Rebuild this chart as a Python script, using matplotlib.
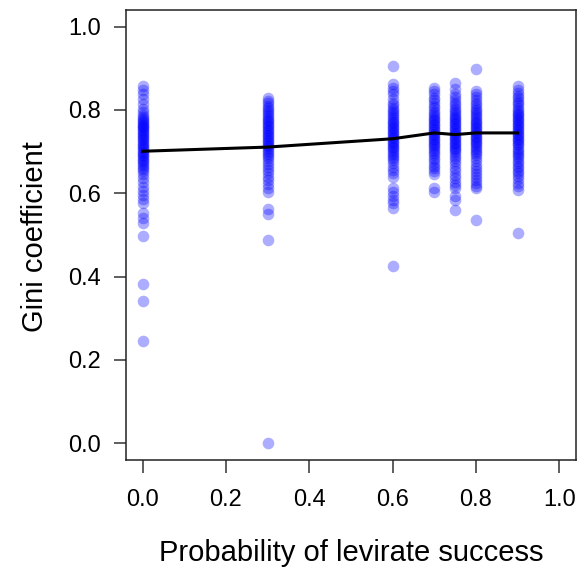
import matplotlib
matplotlib.use("Agg")
import matplotlib.pyplot as plt

plt.rcParams['font.family'] = ['Liberation Sans', 'DejaVu Sans']

# levirate success probabilities used in the simulations
probs = [0.0, 0.3, 0.6, 0.7, 0.75, 0.8, 0.9]

# Gini coefficient of each simulation run, grouped by probability
gini_00 = [0.858, 0.847, 0.838, 0.827, 0.815, 0.803, 0.795, 0.788, 0.783, 0.779, 0.775, 0.771,
           0.768, 0.765, 0.762, 0.759, 0.756, 0.752, 0.749, 0.746, 0.742, 0.738, 0.735, 0.731,
           0.727, 0.723, 0.719, 0.716, 0.712, 0.708, 0.704, 0.700, 0.697, 0.693, 0.689, 0.685,
           0.681, 0.677, 0.673, 0.669, 0.664, 0.659, 0.653, 0.646, 0.637, 0.627, 0.615, 0.606,
           0.595, 0.586, 0.576, 0.552, 0.540, 0.528, 0.497, 0.383, 0.342, 0.245]
gini_03 = [0.830, 0.822, 0.816, 0.810, 0.805, 0.800, 0.795, 0.790, 0.786, 0.781, 0.777, 0.773,
           0.769, 0.765, 0.761, 0.757, 0.753, 0.749, 0.745, 0.741, 0.737, 0.733, 0.729, 0.725,
           0.721, 0.717, 0.713, 0.709, 0.705, 0.700, 0.695, 0.690, 0.684, 0.678, 0.671, 0.664,
           0.656, 0.648, 0.640, 0.631, 0.622, 0.612, 0.603, 0.563, 0.551, 0.487, 0.000]
gini_06 = [0.906, 0.863, 0.853, 0.845, 0.838, 0.826, 0.818, 0.812, 0.806, 0.800, 0.795, 0.790,
           0.785, 0.780, 0.776, 0.772, 0.768, 0.764, 0.760, 0.756, 0.752, 0.748, 0.744, 0.740,
           0.736, 0.732, 0.728, 0.724, 0.720, 0.716, 0.712, 0.708, 0.704, 0.700, 0.695, 0.690,
           0.685, 0.680, 0.672, 0.664, 0.657, 0.648, 0.640, 0.614, 0.604, 0.594, 0.585, 0.576,
           0.566, 0.425]
gini_07 = [0.854, 0.846, 0.838, 0.830, 0.823, 0.816, 0.810, 0.804, 0.798, 0.793, 0.788, 0.783,
           0.779, 0.775, 0.771, 0.767, 0.763, 0.759, 0.755, 0.751, 0.747, 0.743, 0.739, 0.735,
           0.731, 0.727, 0.723, 0.719, 0.715, 0.711, 0.707, 0.702, 0.697, 0.692, 0.686, 0.680,
           0.673, 0.666, 0.660, 0.653, 0.647, 0.612, 0.603]
gini_075 = [0.866, 0.850, 0.839, 0.832, 0.825, 0.818, 0.812, 0.806, 0.800, 0.795, 0.790, 0.786,
            0.782, 0.778, 0.774, 0.770, 0.766, 0.762, 0.758, 0.754, 0.750, 0.746, 0.742, 0.738,
            0.734, 0.730, 0.726, 0.722, 0.718, 0.714, 0.710, 0.706, 0.701, 0.696, 0.690, 0.684,
            0.677, 0.670, 0.662, 0.654, 0.645, 0.636, 0.628, 0.620, 0.613, 0.593, 0.584, 0.559]
gini_08 = [0.898, 0.846, 0.838, 0.831, 0.824, 0.817, 0.811, 0.805, 0.800, 0.795, 0.790, 0.785,
           0.780, 0.776, 0.772, 0.768, 0.764, 0.760, 0.756, 0.752, 0.748, 0.744, 0.740, 0.736,
           0.732, 0.728, 0.724, 0.720, 0.716, 0.712, 0.707, 0.702, 0.697, 0.691, 0.684, 0.677,
           0.669, 0.661, 0.653, 0.646, 0.639, 0.632, 0.625, 0.618, 0.612, 0.535]
gini_09 = [0.858, 0.847, 0.840, 0.834, 0.828, 0.822, 0.816, 0.811, 0.806, 0.801, 0.796, 0.791,
           0.787, 0.783, 0.779, 0.775, 0.771, 0.767, 0.763, 0.759, 0.755, 0.751, 0.747, 0.743,
           0.739, 0.735, 0.731, 0.727, 0.723, 0.719, 0.715, 0.710, 0.705, 0.700, 0.695, 0.690,
           0.684, 0.678, 0.672, 0.666, 0.660, 0.654, 0.648, 0.641, 0.634, 0.626, 0.618, 0.608,
           0.504]
groups = [gini_00, gini_03, gini_06, gini_07, gini_075, gini_08, gini_09]

# mean Gini per probability
mean_gini = [0.701, 0.711, 0.731, 0.745, 0.741, 0.745, 0.745]

ticks = [0.0, 0.2, 0.4, 0.6, 0.8, 1.0]

fig = plt.figure(figsize=(5.84, 5.70), dpi=100)
ax = fig.add_axes([126 / 584, 110 / 570, 450 / 584, 450 / 570])

for p, vals in zip(probs, groups):
    ax.scatter([p] * len(vals), vals, s=70, color='blue', alpha=0.32, linewidths=0, zorder=2)

ax.plot(probs, mean_gini, color='black', linewidth=2.2, zorder=3)

ax.set_xlim(-0.04, 1.04)
ax.set_ylim(-0.04, 1.04)
ax.set_xticks(ticks)
ax.set_yticks(ticks)
ax.set_xticklabels(['%.1f' % t for t in ticks])
ax.set_yticklabels(['%.1f' % t for t in ticks])
ax.tick_params(axis='both', direction='out', length=9, width=1.1, color='#333333', labelsize=17)
ax.tick_params(axis='x', pad=12)
ax.tick_params(axis='y', pad=9)
for s in ax.spines.values():
    s.set_linewidth(1.1)
    s.set_color('#222222')

fig.text(351 / 584, 1 - 553 / 570, 'Probability of levirate success', ha='center', va='center', fontsize=21)
fig.text(35 / 584, 1 - 237 / 570, 'Gini coefficient', ha='center', va='center', rotation=90, fontsize=21)

fig.savefig('out.png', dpi=100)
